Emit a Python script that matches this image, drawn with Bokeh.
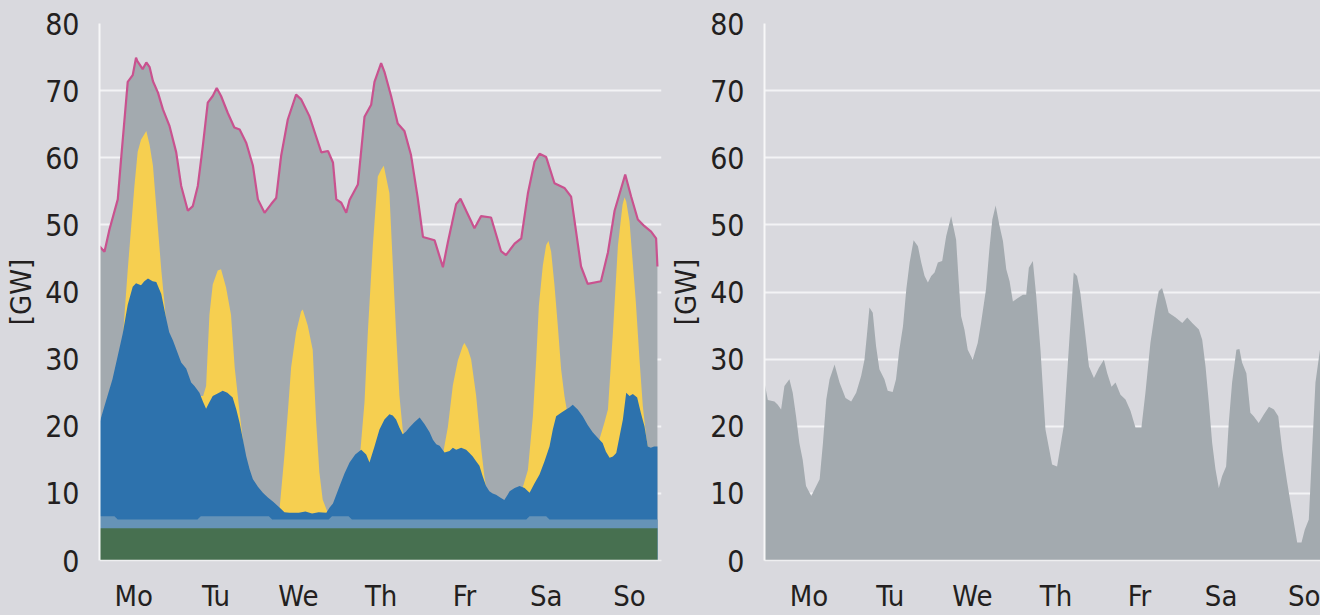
from bokeh.plotting import figure
from bokeh.layouts import row
from bokeh.models import Range1d, FixedTicker
from bokeh.embed import file_html
from bokeh.resources import INLINE

# ---------------- data (hours of the week, GW) ----------------
day_labels = ["Mo", "Tu", "We", "Th", "Fr", "Sa", "So"]
left_day_ticks = [10.3, 35.1, 59.9, 84.8, 109.9, 134.5, 159.6]
right_day_ticks = [13.4, 37.9, 62.6, 87.8, 112.9, 137.5, 162.6]
y_ticks = [0, 10, 20, 30, 40, 50, 60, 70, 80]

# load (magenta line, top of grey area)
load_hours = [0.0, 1.5, 3.0, 5.5, 6.5, 8.5, 10.0, 11.0, 11.4, 13.0, 14.1, 15.1, 16.1,
              17.6, 19.1, 21.1, 23.1, 24.6, 26.6, 28.1, 29.6, 31.1, 32.6, 34.1, 35.3,
              36.6, 38.6, 40.6, 42.2, 44.2, 46.2, 47.7, 49.7, 51.7, 53.2, 54.7, 56.7,
              59.2, 60.7, 63.2, 65.2, 66.8, 68.8, 70.3, 71.3, 72.8, 74.3, 75.3, 77.8,
              79.8, 81.8, 82.8, 84.8, 85.8, 87.8, 89.8, 91.8, 93.8, 95.8, 97.4, 100.9,
              103.4, 104.9, 107.4, 108.7, 110.4, 112.9, 114.9, 117.9, 120.9, 122.4,
              125.0, 127.0, 129.0, 131.0, 132.5, 134.5, 137.0, 140.0, 142.0, 145.0,
              147.0, 151.0, 153.1, 155.1, 158.3, 160.1, 162.1, 164.1, 166.1, 167.6, 168.0]
load = [46.8, 46.0, 49.3, 53.8, 59.8, 71.3, 72.3, 74.9, 74.4, 73.2, 74.2, 73.5, 71.4,
        69.7, 67.2, 64.7, 60.8, 55.8, 52.1, 52.8, 55.8, 61.7, 68.2, 69.2, 70.4,
        69.2, 66.7, 64.5, 64.2, 62.2, 58.8, 53.8, 51.8, 53.1, 54.0, 60.3, 65.7,
        69.4, 68.7, 66.2, 63.2, 60.8, 61.0, 59.3, 53.8, 53.3, 51.8, 53.7, 56.0,
        66.1, 67.9, 71.3, 74.1, 72.8, 69.2, 65.1, 64.0, 60.4, 54.1, 48.2, 47.7,
        43.7, 47.4, 53.1, 53.9, 52.1, 49.5, 51.3, 51.1, 46.1, 45.5,
        47.2, 48.0, 54.7, 59.4, 60.6, 60.1, 56.2, 55.5, 54.2, 43.8,
        41.2, 41.6, 45.9, 52.1, 57.5, 54.2, 50.8, 49.8, 49.0, 48.0, 43.8]

# top of wind (dark blue) in the stack
wind_hours = [0.0, 1.5, 3.9, 5.5, 7.0, 8.5, 10.0, 11.0, 12.5, 13.5, 14.6, 16.0, 17.1,
              18.6, 20.1, 21.0, 22.1, 24.6, 26.1, 27.6, 28.6, 30.1, 31.2, 32.1, 33.0,
              34.1, 36.0, 37.1, 38.5, 40.1, 41.2, 42.2, 43.2, 44.2, 45.2, 46.2, 47.7,
              49.2, 50.7, 52.2, 54.2, 55.7, 57.2, 60.0, 62.0, 64.0, 66.0, 68.3, 69.3,
              70.3, 71.3, 72.3, 73.8, 75.3, 77.0, 78.8, 80.3, 81.3, 82.8, 84.3, 85.8,
              87.3, 88.3, 89.3, 90.3, 91.3, 92.3, 93.3, 94.8, 96.4, 97.9, 99.4, 100.4,
              101.4, 102.4, 103.9, 105.4, 106.4, 107.4, 108.9, 110.4, 111.4, 112.4,
              113.4, 114.4, 115.4, 116.4, 117.4, 118.4, 119.4, 120.9, 121.9, 122.9,
              123.5, 125.0, 126.5, 128.0, 129.5, 131.0, 132.5, 134.0, 135.5, 136.5,
              137.5, 139.0, 140.5, 141.5, 142.5, 144.0, 145.5, 147.0, 148.5, 150.0,
              151.5, 152.5, 153.6, 154.6, 155.6, 156.6, 157.6, 158.6, 159.6, 160.6,
              161.9, 163.0, 164.1, 165.1, 166.0, 167.0, 168.0]
wind_top = [20.5, 23.0, 27.0, 30.5, 33.8, 38.1, 40.8, 41.3, 41.0, 41.6, 42.0, 41.6, 41.5,
            39.7, 36.0, 34.0, 32.8, 29.5, 28.6, 26.5, 26.0, 25.0, 23.6, 22.6, 23.5,
            24.5, 25.0, 25.3, 25.0, 24.3, 22.5, 20.5, 18.0, 15.5, 13.6, 12.1, 11.0,
            10.1, 9.4, 8.8, 7.9, 7.2, 7.1, 7.1, 7.3, 7.0, 7.2, 7.1, 7.9,
            8.5, 9.8, 11.1, 13.0, 14.6, 15.8, 16.5, 15.8, 14.6, 17.0, 19.5, 21.0,
            21.8, 21.6, 21.0, 19.8, 18.8, 19.2, 19.8, 20.6, 21.3, 20.3, 19.1, 18.0,
            17.3, 17.1, 16.1, 16.3, 16.8, 16.5, 16.8, 16.5, 16.0, 15.5,
            14.8, 14.1, 12.5, 11.1, 10.3, 10.0, 9.8, 9.3, 9.0, 9.8,
            10.3, 10.8, 11.1, 10.8, 10.1, 11.5, 12.8, 14.8, 17.0, 19.5,
            21.5, 22.0, 22.5, 22.8, 23.2, 22.5, 21.5, 20.2, 19.1, 18.3,
            17.5, 16.2, 15.3, 15.5, 16.0, 18.5, 21.0, 25.0, 24.5, 24.8,
            24.3, 22.0, 20.0, 17.0, 16.8, 17.0, 17.0]

# top of hydro (light blue) and biomass (green)
hydro_hours = [0, 4.5, 5.5, 29.5, 30.5, 51, 52, 69, 70, 75, 76, 128.5, 129.5, 134.5, 135.5, 168]
hydro_top = [6.6, 6.6, 6.1, 6.1, 6.6, 6.6, 6.1, 6.1, 6.6, 6.6, 6.1, 6.1, 6.6, 6.6, 6.1, 6.1]
biomass_hours = [0, 168]
biomass_top = [4.8, 4.8]

# top of solar (yellow) for each day
solar_hours = [
    [7.0, 8.5, 9.5, 10.5, 11.5, 12.5, 13.5, 14.1, 15.1, 16.1, 17.1, 18.6, 20.1],
    [30.0, 31.2, 32.1, 33.1, 34.1, 35.6, 36.6, 38.1, 39.6, 40.7, 42.2, 43.7, 44.7],
    [54.2, 55.7, 56.7, 57.7, 59.2, 60.7, 61.2, 62.7, 64.2, 65.2, 66.2, 67.2, 68.8],
    [78.5, 79.8, 80.8, 82.3, 83.8, 84.8, 85.6, 87.3, 88.3, 89.3, 90.3, 91.3, 91.8],
    [103.4, 104.9, 106.4, 107.9, 109.4, 109.9, 110.9, 111.9, 113.4, 114.9, 115.9, 116.4],
    [127.5, 129.0, 130.5, 131.5, 132.3, 133.5, 134.5, 135.2, 136.0, 137.0, 138.0, 139.0, 140.0, 140.7],
    [150.5, 152.0, 153.1, 154.6, 156.1, 157.5, 158.1, 158.6, 159.6, 161.5, 162.6, 163.6, 164.6, 165.1],
]
solar_top = [
    [33.0, 43.3, 49.5, 55.7, 60.9, 62.7, 63.5, 64.0, 61.9, 58.8, 52.6, 43.3, 35.5],
    [24.5, 24.5, 26.0, 36.6, 41.1, 43.2, 43.4, 40.7, 36.6, 28.8, 22.0, 15.8, 14.0],
    [7.6, 15.8, 22.0, 28.8, 34.0, 37.1, 37.4, 35.0, 31.4, 21.0, 13.2, 9.1, 7.0],
    [16.0, 23.6, 34.0, 46.9, 57.2, 58.2, 58.8, 54.7, 44.3, 34.0, 24.6, 19.5, 18.5],
    [15.8, 19.9, 26.1, 29.8, 32.0, 32.4, 31.5, 30.0, 24.6, 16.8, 12.5, 11.0],
    [11.0, 13.5, 21.5, 30.0, 38.0, 44.0, 47.0, 47.6, 46.0, 41.0, 35.0, 28.5, 24.5, 22.5],
    [18.0, 20.5, 22.5, 34.0, 46.9, 53.0, 54.1, 53.5, 50.5, 38.5, 30.0, 23.0, 18.5, 17.0],
]

# residual load (right panel)
res_hours = [0.0, 1.0, 3.0, 4.0, 5.0, 6.0, 7.5, 8.5, 9.5, 10.5, 11.5, 12.5, 14.1, 15.1,
             16.6, 17.6, 18.6, 19.6, 21.1, 22.6, 24.4, 26.1, 27.6, 29.1, 30.1, 30.8,
             31.6, 32.6, 33.6, 34.6, 36.1, 37.1, 38.6, 39.6, 40.6, 41.7, 42.7, 43.7,
             44.9, 46.2, 47.2, 48.2, 49.2, 50.2, 51.2, 52.2, 53.5, 54.7, 56.2, 57.7,
             58.5, 59.2, 60.2, 61.2, 62.7, 64.2, 65.2, 66.7, 67.7, 68.6, 69.6, 70.8,
             71.8, 72.8, 73.8, 74.8, 76.3, 77.8, 78.8, 79.6, 80.8, 81.8, 83.1, 84.6,
             86.6, 88.1, 90.1, 91.6, 93.1, 94.1, 95.1, 96.2, 97.7, 99.2, 100.7, 102.2,
             103.2, 104.5, 105.7, 107.2, 108.7, 110.2, 111.7, 113.5, 114.7, 116.2,
             117.7, 118.7, 119.7, 120.7, 121.7, 123.8, 125.8, 127.3, 128.8, 130.8,
             131.8, 132.8, 133.8, 134.8, 135.8, 136.8, 137.8, 139.0, 139.8, 140.8,
             142.1, 143.0, 143.8, 145.1, 146.3, 147.3, 148.8, 150.4, 151.9, 153.4,
             154.7, 155.9, 157.4, 158.9, 160.4, 161.7, 162.7, 163.9, 164.9, 165.9, 167.4]
residual = [26.5, 23.9, 23.7, 23.2, 22.5, 26.0, 27.0, 25.0, 21.5, 17.5, 15.0, 11.1, 9.6, 10.6,
            12.1, 17.5, 24.0, 27.0, 29.2, 26.5, 24.2, 23.7, 25.0, 27.5, 29.9, 33.4,
            37.7, 36.9, 31.9, 28.5, 27.0, 25.3, 25.1, 27.0, 31.4, 34.9, 40.4, 44.4,
            47.7, 46.8, 44.4, 42.4, 41.4, 42.4, 42.9, 44.4, 44.6, 48.3, 51.3, 47.8,
            41.4, 36.4, 34.4, 31.4, 29.9, 32.4, 35.4, 40.4, 46.3, 50.8, 52.9, 49.8,
            47.6, 43.4, 41.6, 38.6, 39.1, 39.6, 39.6, 43.6, 44.6, 39.5, 31.4, 19.5,
            14.3, 14.0, 20.0, 31.4, 42.9, 42.4, 39.9, 35.4, 28.9, 27.2, 28.7, 29.9,
            27.9, 25.9, 26.5, 24.7, 24.0, 22.3, 19.8, 19.8, 25.0, 32.4,
            37.4, 40.1, 40.6, 38.9, 36.9, 36.2, 35.4, 36.2, 35.4, 34.4,
            32.9, 28.9, 23.5, 17.5, 13.6, 10.8, 12.6, 14.0, 20.5, 26.5,
            31.4, 31.5, 29.5, 27.9, 22.0, 21.5, 20.5, 21.8, 22.9, 22.5,
            21.5, 16.5, 11.6, 7.1, 2.7, 2.7, 4.6, 6.1, 16.5, 26.5, 31.9]

# ---------------- styling ----------------
BG = "#d9d9de"
GREY = "#a3aaaf"
YELLOW = "#f6cf50"
BLUE = "#2d72ad"
LIGHTBLUE = "#6693b7"
GREEN = "#477050"
MAGENTA = "#c9528f"
TEXT = "#231f20"
FONT = "DejaVu Sans Condensed"
PX_PER_HOUR = 3.321


def make_fig(frame_w, border_left, border_right, day_ticks):
    p = figure(frame_width=frame_w, frame_height=537, output_backend="svg",
               toolbar_location=None,
               x_range=Range1d(0, frame_w / PX_PER_HOUR), y_range=Range1d(0, 80),
               min_border_left=border_left, min_border_right=border_right,
               min_border_top=23, min_border_bottom=46)
    p.background_fill_color = BG
    p.border_fill_color = BG
    p.outline_line_color = None
    p.xgrid.visible = False
    p.ygrid.grid_line_color = "#f3f3f5"
    p.ygrid.grid_line_width = 2

    yax = p.yaxis[0]
    yax.ticker = FixedTicker(ticks=y_ticks)
    yax.axis_line_color = "#f7f7f8"
    yax.axis_line_width = 2
    yax.major_tick_line_color = None
    yax.minor_tick_line_color = None
    yax.major_label_text_font = FONT
    yax.major_label_text_font_size = "30px"
    yax.major_label_text_color = TEXT
    yax.major_label_standoff = 14
    yax.axis_label = "[GW]"
    yax.axis_label_text_font = FONT
    yax.axis_label_text_font_size = "29px"
    yax.axis_label_text_font_style = "normal"
    yax.axis_label_text_color = TEXT
    yax.axis_label_standoff = 4

    xax = p.xaxis[0]
    xax.ticker = FixedTicker(ticks=day_ticks)
    xax.major_label_overrides = {t: d for t, d in zip(day_ticks, day_labels)}
    xax.axis_line_color = "#eeeef0"
    xax.axis_line_width = 1.5
    xax.major_tick_line_color = None
    xax.minor_tick_line_color = None
    xax.major_label_text_font = FONT
    xax.major_label_text_font_size = "29px"
    xax.major_label_text_color = TEXT
    xax.major_label_standoff = 12
    return p


left = make_fig(562, 99, 5, left_day_ticks)
left.varea(x=load_hours, y1=0, y2=load, fill_color=GREY)
for sh, st in zip(solar_hours, solar_top):
    left.varea(x=sh, y1=0, y2=st, fill_color=YELLOW)
left.varea(x=wind_hours, y1=0, y2=wind_top, fill_color=BLUE)
left.varea(x=hydro_hours, y1=0, y2=hydro_top, fill_color=LIGHTBLUE)
left.varea(x=biomass_hours, y1=0, y2=biomass_top, fill_color=GREEN)
left.line(load_hours, load, line_color=MAGENTA, line_width=2.2)

right = make_fig(556, 98, 0, right_day_ticks)
right.varea(x=res_hours, y1=0, y2=residual, fill_color=GREY)

p = row(left, right, styles={"background-color": BG})
open("out.html", "w").write(file_html(p, INLINE))
